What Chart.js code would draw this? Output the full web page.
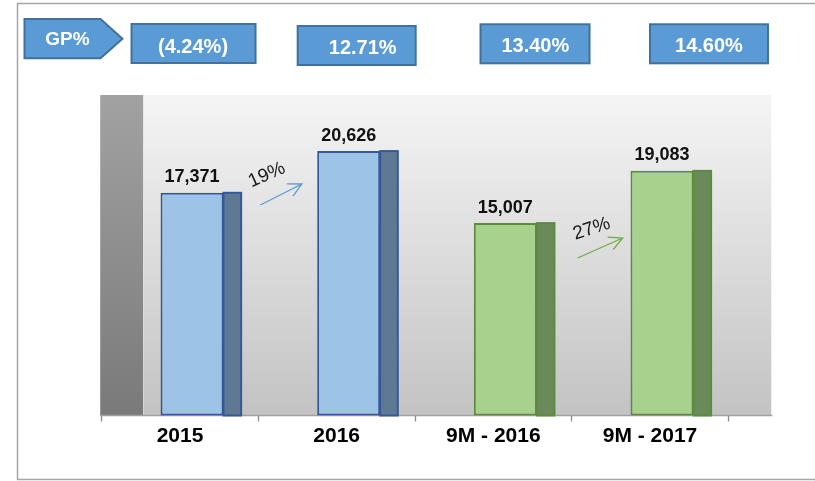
<!DOCTYPE html>
<html>
<head>
<meta charset="utf-8">
<script src="https://cdn.jsdelivr.net/npm/chart.js@4.4.1/dist/chart.umd.min.js"></script>
<style>
  html,body{margin:0;padding:0;background:#fff;}
  #wrap{width:815px;height:481px;position:relative;}
</style>
</head>
<body>
<div id="wrap"><canvas id="c" width="815" height="481"></canvas></div>
<script>
// data
const categories = ['2015', '2016', '9M - 2016', '9M - 2017'];
const revenue = [17371, 20626, 15007, 19083];
const gpMargin = ['(4.24%)', '12.71%', '13.40%', '14.60%'];
const growth = ['19%', '27%'];
const yMax = 25000;

// styles
const FONT = "'Liberation Sans', Arial, sans-serif";
const frontFill = ['#9dc3e6', '#9dc3e6', '#a9d18e', '#a9d18e'];
const sideFill = ['#5f7893', '#5f7893', '#6b8a5b', '#6b8a5b'];
const edge = ['#35589a', '#35589a', '#5b8c3c', '#5b8c3c'];
const growthColor = ['#5b9bd5', '#70ad47'];
const BAR_SHIFT = 12;   // bars sit right of the category centre (3D look)
const DEPTH = 43;       // width of the side wall / back wall offset

// box layout for the GP% row: [dx from category centre, width, top, height, text dx, text y]
const gpBoxes = [
  [13.5, 124, 24, 39, 13, 47],
  [20, 118, 26, 39, 26, 48],
  [41.7, 109, 24.3, 39, 42, 46],
  [59, 118, 24.3, 39, 59, 46]
];
// growth arrows: [dx start, y start, dx tip, y tip, text dx, text y, angle]
const growthArrows = [
  [2, 205, 43.5, 184, 8.5, 175, -24],
  [6, 258, 51, 238, 20, 229, -18]
];

const deco = {
  id: 'deco',
  beforeDraw(chart){
    const {ctx, chartArea: a} = chart;
    const x = chart.scales.x;
    ctx.save();
    // outer frame (no right side)
    ctx.strokeStyle = '#a6a6a6'; ctx.lineWidth = 1.5;
    ctx.beginPath();
    ctx.moveTo(815, 3.5); ctx.lineTo(17.5, 3.5); ctx.lineTo(17.5, 479.5); ctx.lineTo(815, 479.5);
    ctx.stroke();

    // back wall
    let g = ctx.createLinearGradient(0, a.top, 0, a.bottom);
    g.addColorStop(0, '#f5f5f5'); g.addColorStop(1, '#c3c3c3');
    ctx.fillStyle = g;
    ctx.fillRect(a.left + DEPTH - 1, a.top, a.right - a.left + 1, a.bottom - a.top);
    // side wall
    g = ctx.createLinearGradient(0, a.top, 0, a.bottom);
    g.addColorStop(0, '#a2a2a2'); g.addColorStop(1, '#7a7a7a');
    ctx.fillStyle = g;
    ctx.fillRect(a.left - 1.5, a.top, DEPTH, a.bottom - a.top);
    // floor line
    ctx.strokeStyle = '#a0a0a0'; ctx.lineWidth = 1.5;
    ctx.beginPath(); ctx.moveTo(a.left - 1.5, a.bottom); ctx.lineTo(a.right + DEPTH + 1, a.bottom); ctx.stroke();

    // GP% tag
    ctx.fillStyle = '#5b9bd5'; ctx.strokeStyle = '#41719c'; ctx.lineWidth = 2;
    ctx.beginPath();
    ctx.moveTo(24.5, 19); ctx.lineTo(100.5, 19); ctx.lineTo(122.5, 38.7);
    ctx.lineTo(100.5, 58.3); ctx.lineTo(24.5, 58.3); ctx.closePath();
    ctx.fill(); ctx.stroke();
    ctx.fillStyle = '#fff'; ctx.font = 'bold 19px ' + FONT;
    ctx.textAlign = 'center'; ctx.textBaseline = 'middle';
    ctx.fillText('GP%', 67.5, 40);

    // GP% values
    gpMargin.forEach((t, i) => {
      const [dx, w, top, h, tdx, ty] = gpBoxes[i];
      const cx = x.getPixelForValue(i) + dx;
      ctx.fillStyle = '#5b9bd5'; ctx.strokeStyle = '#41719c'; ctx.lineWidth = 2;
      ctx.fillRect(cx - w / 2, top, w, h);
      ctx.strokeRect(cx - w / 2, top, w, h);
      ctx.fillStyle = '#fff'; ctx.font = 'bold 20px ' + FONT;
      ctx.fillText(t, x.getPixelForValue(i) + tdx, ty);
    });
    ctx.restore();
  },
  beforeDatasetsDraw(chart){
    chart.ctx.save();
    chart.ctx.translate(BAR_SHIFT, 0);
  },
  afterDatasetsDraw(chart){
    const ctx = chart.ctx;
    const meta = chart.getDatasetMeta(0);
    meta.data.forEach((bar, i) => {
      const w = bar.width;
      const side = w * 0.28;
      const r = bar.x + w / 2;
      ctx.fillStyle = sideFill[i]; ctx.strokeStyle = edge[i]; ctx.lineWidth = 2;
      ctx.fillRect(r, bar.y, side, bar.base - bar.y);
      ctx.strokeRect(r, bar.y, side, bar.base - bar.y);
      ctx.fillStyle = '#111'; ctx.font = 'bold 18px ' + FONT;
      ctx.textAlign = 'center'; ctx.textBaseline = 'alphabetic';
      ctx.fillText(revenue[i].toLocaleString('en-US'), bar.x, bar.y - 10.5);
    });
    ctx.restore();

    // growth arrows between the pairs
    const x = chart.scales.x;
    growth.forEach((t, k) => {
      const i = k * 2;
      const bx = (x.getPixelForValue(i) + x.getPixelForValue(i + 1)) / 2;
      const [sx, sy, tx, ty, lx, ly, ang] = growthArrows[k];
      const x0 = bx + sx, x1 = bx + tx;
      ctx.save();
      ctx.strokeStyle = growthColor[k]; ctx.lineWidth = 1.3;
      ctx.beginPath(); ctx.moveTo(x0, sy); ctx.lineTo(x1, ty); ctx.stroke();
      const th = Math.atan2(ty - sy, x1 - x0);
      const hl = 15, ha = 27 * Math.PI / 180;
      ctx.beginPath();
      ctx.moveTo(x1 - hl * Math.cos(th - ha), ty - hl * Math.sin(th - ha));
      ctx.lineTo(x1, ty);
      ctx.lineTo(x1 - hl * Math.cos(th + ha), ty - hl * Math.sin(th + ha));
      ctx.stroke();
      ctx.translate(bx + lx, ly);
      ctx.rotate(ang * Math.PI / 180);
      ctx.fillStyle = '#1a1a1a'; ctx.font = '19px ' + FONT;
      ctx.textAlign = 'center'; ctx.textBaseline = 'middle';
      ctx.fillText(t, 0, 0);
      ctx.restore();
    });
  }
};

new Chart(document.getElementById('c'), {
  type: 'bar',
  data: {
    labels: categories,
    datasets: [{
      data: revenue,
      backgroundColor: frontFill,
      borderColor: edge,
      borderWidth: 2,
      borderSkipped: false,
      categoryPercentage: 1,
      barPercentage: 0.402,
      clip: false
    }]
  },
  options: {
    responsive: false,
    animation: false,
    events: [],
    layout: {padding: {left: 101.7, right: 86.7, top: 95, bottom: 0}},
    plugins: {legend: {display: false}, tooltip: {enabled: false}, title: {display: false}},
    scales: {
      y: {display: false, min: 0, max: yMax},
      x: {
        offset: true,
        grid: {display: true, drawOnChartArea: false, drawTicks: true, tickLength: 6, tickWidth: 1.3, tickColor: '#8c8c8c', color: '#8c8c8c', offset: true},
        border: {display: false},
        ticks: {color: '#000', font: {family: FONT, size: 21, weight: 'bold'}, padding: 2, maxRotation: 0, autoSkip: false},
        afterFit(s){ s.height = 481 - 415.5; }
      }
    }
  },
  plugins: [deco]
});
</script>
</body>
</html>
